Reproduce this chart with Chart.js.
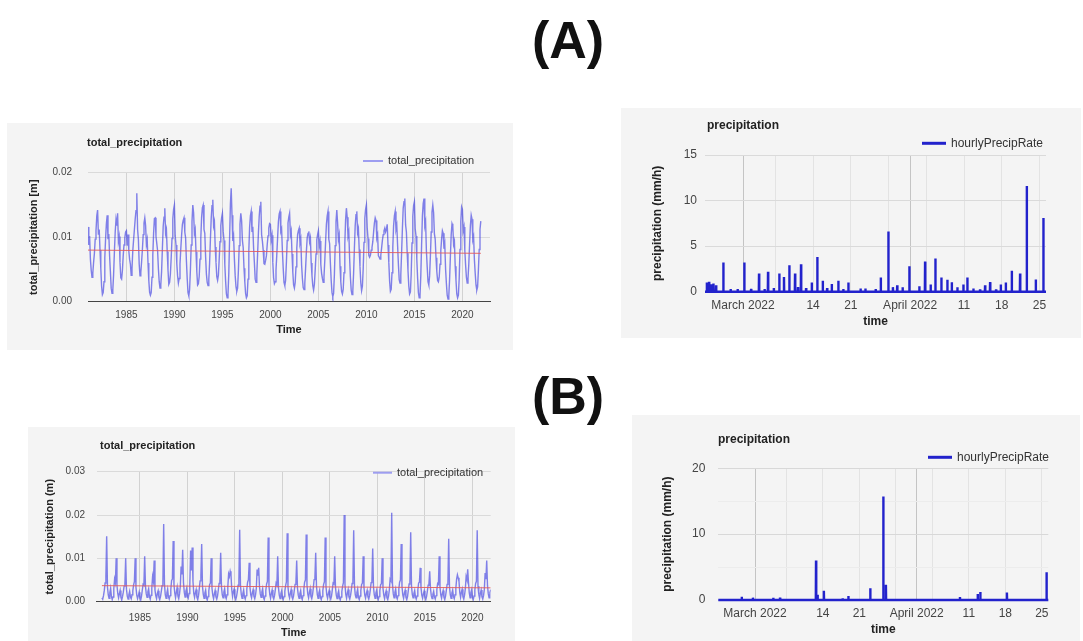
<!DOCTYPE html>
<html>
<head>
<meta charset="utf-8">
<script src="https://cdn.jsdelivr.net/npm/chart.js@4.4.1/dist/chart.umd.min.js"></script>
<style>
  html, body { margin: 0; padding: 0; background: #fff; }
  body { width: 1083px; height: 641px; position: relative; overflow: hidden; font-family: "Liberation Sans", Arial, sans-serif; }
  .panel { position: absolute; background: #f4f4f4; }
  .panel canvas { display: block; }
  .tag { position: absolute; left: 500px; width: 136px; text-align: center; font: bold 52px "Liberation Sans", Arial, sans-serif; line-height: 52px; color: #111; }
</style>
</head>
<body>
<div class="tag" style="top:14px">(A)</div>
<div class="tag" style="top:370px">(B)</div>

<div class="panel" style="left:7px;top:123px;width:506px;height:227px"><canvas id="chartA1" width="506" height="227"></canvas></div>
<div class="panel" style="left:621px;top:108px;width:460px;height:230px"><canvas id="chartA2" width="460" height="230"></canvas></div>
<div class="panel" style="left:28px;top:427px;width:487px;height:214px"><canvas id="chartB1" width="487" height="214"></canvas></div>
<div class="panel" style="left:632px;top:415px;width:448px;height:226px"><canvas id="chartB2" width="448" height="226"></canvas></div>

<script>
// ---- data ----
const yearTicks = [1985, 1990, 1995, 2000, 2005, 2010, 2015, 2020];

// monthly total precipitation [m], Jan..Dec per row
const firstYearA = 1981;
const monthlyPrecipA = [
  [0.0116,0.0088,0.0102,0.0066,0.0049,0.0038,0.0044,0.0061,0.0075,0.0097,0.0110,0.0133],
  [0.0142,0.0104,0.0112,0.0080,0.0052,0.0024,0.0011,0.0014,0.0031,0.0068,0.0098,0.0121],
  [0.0134,0.0097,0.0105,0.0071,0.0046,0.0021,0.0013,0.0018,0.0042,0.0077,0.0108,0.0127],
  [0.0118,0.0137,0.0094,0.0101,0.0061,0.0037,0.0035,0.0048,0.0071,0.0088,0.0099,0.0108],
  [0.0110,0.0087,0.0104,0.0079,0.0066,0.0058,0.0041,0.0052,0.0079,0.0096,0.0112,0.0128],
  [0.0141,0.0168,0.0112,0.0096,0.0058,0.0040,0.0045,0.0062,0.0081,0.0104,0.0122,0.0130],
  [0.0118,0.0089,0.0096,0.0060,0.0033,0.0015,0.0010,0.0014,0.0038,0.0072,0.0106,0.0129],
  [0.0130,0.0101,0.0090,0.0079,0.0051,0.0031,0.0021,0.0026,0.0047,0.0083,0.0117,0.0131],
  [0.0145,0.0106,0.0112,0.0078,0.0049,0.0027,0.0030,0.0043,0.0068,0.0098,0.0128,0.0143],
  [0.0150,0.0102,0.0088,0.0059,0.0040,0.0029,0.0036,0.0058,0.0082,0.0103,0.0120,0.0126],
  [0.0130,0.0108,0.0099,0.0064,0.0036,0.0014,0.0009,0.0019,0.0049,0.0088,0.0124,0.0150],
  [0.0138,0.0106,0.0112,0.0077,0.0047,0.0026,0.0028,0.0039,0.0066,0.0098,0.0131,0.0146],
  [0.0150,0.0112,0.0106,0.0070,0.0043,0.0030,0.0025,0.0034,0.0060,0.0096,0.0129,0.0149],
  [0.0158,0.0118,0.0124,0.0085,0.0061,0.0039,0.0033,0.0041,0.0066,0.0093,0.0118,0.0130],
  [0.0137,0.0109,0.0095,0.0058,0.0032,0.0012,0.0006,0.0012,0.0044,0.0098,0.0151,0.0176],
  [0.0134,0.0094,0.0101,0.0066,0.0040,0.0023,0.0016,0.0021,0.0048,0.0087,0.0120,0.0137],
  [0.0126,0.0095,0.0084,0.0052,0.0031,0.0013,0.0006,0.0009,0.0035,0.0078,0.0115,0.0133],
  [0.0140,0.0108,0.0116,0.0083,0.0060,0.0035,0.0030,0.0042,0.0074,0.0106,0.0132,0.0148],
  [0.0155,0.0104,0.0094,0.0080,0.0059,0.0058,0.0064,0.0071,0.0088,0.0102,0.0114,0.0121],
  [0.0120,0.0096,0.0103,0.0061,0.0037,0.0028,0.0031,0.0049,0.0073,0.0099,0.0124,0.0136],
  [0.0140,0.0109,0.0113,0.0079,0.0052,0.0030,0.0025,0.0033,0.0061,0.0095,0.0122,0.0131],
  [0.0137,0.0104,0.0110,0.0074,0.0046,0.0026,0.0021,0.0030,0.0054,0.0083,0.0104,0.0110],
  [0.0114,0.0091,0.0097,0.0057,0.0036,0.0022,0.0019,0.0028,0.0052,0.0078,0.0099,0.0106],
  [0.0109,0.0093,0.0099,0.0060,0.0040,0.0025,0.0018,0.0027,0.0049,0.0074,0.0096,0.0104],
  [0.0110,0.0087,0.0094,0.0058,0.0044,0.0036,0.0030,0.0039,0.0064,0.0093,0.0120,0.0133],
  [0.0140,0.0097,0.0090,0.0059,0.0033,0.0014,0.0008,0.0013,0.0042,0.0087,0.0124,0.0142],
  [0.0122,0.0097,0.0104,0.0055,0.0031,0.0016,0.0012,0.0019,0.0045,0.0089,0.0127,0.0145],
  [0.0131,0.0102,0.0108,0.0068,0.0038,0.0018,0.0011,0.0016,0.0044,0.0083,0.0118,0.0135],
  [0.0140,0.0107,0.0113,0.0081,0.0054,0.0029,0.0017,0.0024,0.0051,0.0092,0.0129,0.0143],
  [0.0150,0.0115,0.0098,0.0072,0.0069,0.0072,0.0080,0.0084,0.0093,0.0108,0.0122,0.0130],
  [0.0126,0.0099,0.0104,0.0071,0.0069,0.0066,0.0072,0.0083,0.0095,0.0104,0.0110,0.0114],
  [0.0108,0.0112,0.0120,0.0088,0.0061,0.0032,0.0016,0.0019,0.0045,0.0084,0.0118,0.0133],
  [0.0140,0.0112,0.0118,0.0087,0.0058,0.0034,0.0029,0.0041,0.0076,0.0113,0.0145,0.0155],
  [0.0160,0.0119,0.0108,0.0075,0.0048,0.0024,0.0012,0.0015,0.0043,0.0091,0.0132,0.0149],
  [0.0155,0.0113,0.0102,0.0066,0.0037,0.0014,0.0006,0.0010,0.0040,0.0088,0.0133,0.0152],
  [0.0160,0.0118,0.0124,0.0079,0.0054,0.0031,0.0026,0.0040,0.0071,0.0108,0.0139,0.0150],
  [0.0138,0.0105,0.0097,0.0068,0.0047,0.0033,0.0031,0.0038,0.0058,0.0079,0.0097,0.0110],
  [0.0106,0.0082,0.0089,0.0050,0.0028,0.0010,0.0004,0.0009,0.0035,0.0071,0.0104,0.0121],
  [0.0117,0.0089,0.0094,0.0055,0.0033,0.0012,0.0006,0.0010,0.0036,0.0081,0.0124,0.0147],
  [0.0143,0.0110,0.0116,0.0080,0.0057,0.0038,0.0029,0.0036,0.0058,0.0089,0.0118,0.0134],
  [0.0128,0.0096,0.0101,0.0065,0.0044,0.0026,0.0018,0.0023,0.0049,0.0081,0.0112,0.0125]
];
const trendA = [0.0080, 0.0075];
const precipTicksA = [0, 0.01, 0.02];

const firstYearB = 1981;
const monthlyPrecipB = [
  [0.0009,0.0006,0.0014,0.0026,0.0043,0.0057,0.0151,0.0034,0.0016,0.0008,0.0021,0.0031],
  [0.0012,0.0005,0.0011,0.0030,0.0052,0.0044,0.0100,0.0038,0.0019,0.0009,0.0018,0.0026],
  [0.0010,0.0004,0.0012,0.0022,0.0036,0.0041,0.0100,0.0029,0.0013,0.0006,0.0016,0.0024],
  [0.0011,0.0007,0.0016,0.0025,0.0039,0.0046,0.0100,0.0033,0.0015,0.0007,0.0014,0.0022],
  [0.0008,0.0004,0.0013,0.0027,0.0040,0.0038,0.0105,0.0036,0.0018,0.0010,0.0023,0.0030],
  [0.0012,0.0006,0.0015,0.0031,0.0058,0.0047,0.0095,0.0027,0.0014,0.0007,0.0019,0.0025],
  [0.0010,0.0005,0.0012,0.0024,0.0037,0.0045,0.0179,0.0041,0.0016,0.0008,0.0020,0.0029],
  [0.0011,0.0006,0.0014,0.0028,0.0049,0.0052,0.0140,0.0039,0.0020,0.0009,0.0022,0.0033],
  [0.0013,0.0007,0.0018,0.0035,0.0081,0.0063,0.0120,0.0044,0.0022,0.0011,0.0024,0.0031],
  [0.0012,0.0008,0.0019,0.0038,0.0118,0.0072,0.0125,0.0047,0.0019,0.0010,0.0021,0.0028],
  [0.0010,0.0005,0.0014,0.0030,0.0048,0.0061,0.0133,0.0036,0.0017,0.0008,0.0020,0.0027],
  [0.0009,0.0004,0.0012,0.0025,0.0039,0.0043,0.0100,0.0031,0.0015,0.0007,0.0018,0.0026],
  [0.0011,0.0006,0.0013,0.0027,0.0042,0.0048,0.0113,0.0034,0.0016,0.0009,0.0022,0.0030],
  [0.0012,0.0007,0.0016,0.0034,0.0064,0.0058,0.0070,0.0062,0.0028,0.0012,0.0023,0.0029],
  [0.0010,0.0005,0.0012,0.0023,0.0038,0.0049,0.0166,0.0037,0.0017,0.0008,0.0019,0.0027],
  [0.0011,0.0006,0.0014,0.0029,0.0045,0.0051,0.0090,0.0033,0.0016,0.0009,0.0021,0.0028],
  [0.0012,0.0007,0.0015,0.0031,0.0074,0.0060,0.0078,0.0035,0.0018,0.0010,0.0022,0.0030],
  [0.0010,0.0005,0.0013,0.0026,0.0041,0.0047,0.0148,0.0036,0.0017,0.0008,0.0019,0.0027],
  [0.0011,0.0006,0.0014,0.0028,0.0043,0.0039,0.0105,0.0032,0.0015,0.0007,0.0018,0.0025],
  [0.0009,0.0005,0.0012,0.0024,0.0037,0.0046,0.0158,0.0034,0.0016,0.0009,0.0020,0.0028],
  [0.0011,0.0006,0.0013,0.0027,0.0040,0.0044,0.0095,0.0031,0.0015,0.0008,0.0019,0.0026],
  [0.0010,0.0005,0.0014,0.0029,0.0045,0.0050,0.0155,0.0038,0.0018,0.0009,0.0021,0.0030],
  [0.0012,0.0007,0.0016,0.0032,0.0051,0.0055,0.0113,0.0036,0.0017,0.0008,0.0020,0.0027],
  [0.0010,0.0005,0.0012,0.0025,0.0040,0.0046,0.0148,0.0035,0.0016,0.0008,0.0019,0.0026],
  [0.0011,0.0006,0.0013,0.0028,0.0043,0.0041,0.0105,0.0033,0.0015,0.0007,0.0018,0.0025],
  [0.0009,0.0004,0.0011,0.0023,0.0036,0.0044,0.0200,0.0039,0.0017,0.0008,0.0020,0.0028],
  [0.0011,0.0006,0.0014,0.0027,0.0042,0.0049,0.0165,0.0036,0.0016,0.0009,0.0021,0.0029],
  [0.0010,0.0005,0.0013,0.0026,0.0040,0.0043,0.0105,0.0032,0.0015,0.0008,0.0019,0.0026],
  [0.0011,0.0006,0.0014,0.0028,0.0044,0.0047,0.0123,0.0034,0.0016,0.0008,0.0020,0.0027],
  [0.0010,0.0005,0.0012,0.0025,0.0039,0.0042,0.0100,0.0031,0.0015,0.0007,0.0018,0.0025],
  [0.0009,0.0005,0.0013,0.0027,0.0052,0.0048,0.0205,0.0040,0.0018,0.0009,0.0021,0.0029],
  [0.0011,0.0006,0.0014,0.0029,0.0045,0.0050,0.0133,0.0035,0.0016,0.0008,0.0020,0.0027],
  [0.0010,0.0005,0.0012,0.0026,0.0041,0.0046,0.0160,0.0036,0.0017,0.0009,0.0019,0.0026],
  [0.0011,0.0006,0.0013,0.0027,0.0043,0.0045,0.0078,0.0032,0.0015,0.0008,0.0018,0.0025],
  [0.0010,0.0005,0.0012,0.0024,0.0038,0.0041,0.0070,0.0030,0.0014,0.0007,0.0017,0.0024],
  [0.0011,0.0006,0.0014,0.0028,0.0042,0.0040,0.0105,0.0033,0.0016,0.0008,0.0019,0.0026],
  [0.0010,0.0005,0.0013,0.0026,0.0040,0.0045,0.0145,0.0034,0.0016,0.0008,0.0020,0.0027],
  [0.0012,0.0007,0.0016,0.0031,0.0052,0.0062,0.0055,0.0047,0.0021,0.0010,0.0022,0.0029],
  [0.0011,0.0006,0.0015,0.0030,0.0058,0.0051,0.0075,0.0044,0.0020,0.0009,0.0021,0.0028],
  [0.0010,0.0005,0.0013,0.0027,0.0042,0.0047,0.0165,0.0036,0.0017,0.0008,0.0020,0.0027],
  [0.0011,0.0006,0.0014,0.0029,0.0066,0.0052,0.0095,0.0037,0.0018,0.0009,0.0021,0.0028]
];
const trendB = [0.0037, 0.0032];
const precipTicksB = [0, 0.01, 0.02, 0.03];

// hourly rain events: day counted from 1 March 2022, peak rate in mm/h
const dayTicks = [0, 6, 13, 20, 27, 31, 34, 41, 48, 55];
const dayLabels = ['March 2022', '', '14', '21', '', 'April 2022', '', '11', '18', '25'];
const monthStartDays = [0, 31];

const rainDaysA = [-6.7,-6.3,-5.9,-5.5,-5.0,-3.65,-2.3,-1.0,0.24,1.5,2.97,4.0,4.64,5.7,6.73,7.6,8.59,9.65,10.2,10.76,11.7,12.75,13.78,14.79,15.6,16.46,17.68,18.6,19.54,21.8,22.7,24.6,25.55,26.96,27.8,28.6,29.6,30.85,32.7,33.77,34.8,35.68,36.79,37.9,38.72,39.76,40.87,41.61,42.73,43.97,44.9,45.83,46.94,47.81,48.74,49.85,51.39,52.63,54.3,55.71];
const rainRatesA = [1.0,1.1,0.8,0.9,0.7,3.2,0.3,0.3,3.2,0.3,2.0,0.3,2.2,0.4,2.0,1.6,2.9,2.0,0.5,3.0,0.4,1.0,3.8,1.2,0.4,0.85,1.2,0.3,1.0,0.35,0.35,0.3,1.55,6.6,0.5,0.7,0.5,2.8,0.6,3.3,0.8,3.65,1.55,1.3,1.05,0.5,0.8,1.55,0.35,0.25,0.7,1.05,0.25,0.8,1.0,2.3,2.0,11.6,1.35,8.1];
const rateTicksA = [0, 5, 10, 15];

const rainDaysB = [-2.55,-0.4,3.5,4.8,11.7,12.0,13.2,16.8,17.9,22.1,24.6,25.1,39.3,42.7,43.2,48.3,55.9];
const rainRatesB = [0.5,0.35,0.35,0.35,6.0,0.8,1.4,0.25,0.6,1.8,15.7,2.3,0.45,0.9,1.2,1.15,4.2];
const rateTicksB = [0, 5, 10, 15, 20];
const rateLabelsB = ['0', '', '10', '', '20'];

// ---- helpers ----
Chart.defaults.font.family = '"Liberation Sans", Arial, sans-serif';
Chart.defaults.color = '#444';

function monthlySeries(rows, firstYear) {
  let pts = [];
  rows.forEach((row, yi) => {
    row.forEach((v, m) => pts.push({x: firstYear + yi + m / 12, y: v}));
  });
  return pts;
}

function spikeSeries(days, rates, start, end) {
  // rate is zero between the rain hours
  let pts = [{x: start, y: 0}];
  days.forEach((d, i) => {
    pts.push({x: d - 0.04, y: 0}, {x: d, y: rates[i]}, {x: d + 0.04, y: 0});
  });
  pts.push({x: end, y: 0});
  return pts;
}

const panelText = {
  id: 'panelText',
  afterDraw(chart, args, o) {
    const ctx = chart.ctx;
    ctx.save();
    ctx.textBaseline = 'middle';
    ctx.fillStyle = '#222';
    ctx.font = 'bold ' + o.titleSize + 'px "Liberation Sans", Arial, sans-serif';
    ctx.fillText(o.title, o.titleX, o.titleY);
    ctx.strokeStyle = o.swatchColor;
    ctx.lineWidth = o.swatchWidth;
    ctx.beginPath();
    ctx.moveTo(o.legendX, o.legendY);
    ctx.lineTo(o.legendX + o.swatchLen, o.legendY);
    ctx.stroke();
    ctx.fillStyle = '#333';
    ctx.font = o.legendSize + 'px "Liberation Sans", Arial, sans-serif';
    ctx.fillText(o.legend, o.legendX + o.swatchLen + 5, o.legendY);
    ctx.restore();
  }
};

function makeChart(id, datasets, cfg) {
  new Chart(document.getElementById(id), {
    type: 'line',
    data: {datasets: datasets},
    plugins: [panelText],
    options: {
      responsive: false,
      animation: false,
      layout: {padding: {left: 0, right: cfg.padRight, top: cfg.padTop, bottom: 0}},
      plugins: {
        legend: {display: false},
        tooltip: {enabled: false},
        panelText: cfg.text
      },
      elements: {point: {radius: 0}, line: {tension: 0}},
      scales: {
        x: {
          type: 'linear',
          min: cfg.xMin, max: cfg.xMax,
          afterFit: s => { s.height = cfg.xHeight; },
          afterBuildTicks: s => { s.ticks = cfg.xTicks.map(v => ({value: v})); },
          ticks: {
            autoSkip: false, maxRotation: 0, padding: cfg.xTickPad,
            font: {size: cfg.tickSize}, color: '#444',
            callback: cfg.xLabel
          },
          grid: {drawTicks: false, color: cfg.xGridColor},
          border: {display: cfg.baseline, color: '#444'},
          title: {display: true, text: cfg.xTitle, color: '#222',
                  font: {size: cfg.axisTitleSize, weight: 'bold'},
                  padding: {top: 0, bottom: cfg.xTitlePad}}
        },
        y: {
          type: 'linear',
          min: cfg.yTicks[0], max: cfg.yTicks[cfg.yTicks.length - 1],
          afterFit: s => { s.width = cfg.yWidth; },
          afterBuildTicks: s => { s.ticks = cfg.yTicks.map(v => ({value: v})); },
          ticks: {
            autoSkip: false, padding: cfg.yTickPad,
            font: {size: cfg.tickSize}, color: '#444',
            callback: cfg.yLabel
          },
          grid: {drawTicks: false, color: cfg.yGridColor},
          border: {display: false},
          title: {display: true, text: cfg.yTitle, color: '#222',
                  font: {size: cfg.axisTitleSize, weight: 'bold'},
                  padding: {top: cfg.yTitlePad, bottom: 0}}
        }
      }
    }
  });
}

function precipDatasets(rows, firstYear, trend) {
  const series = monthlySeries(rows, firstYear);
  return [
    {label: 'trend', data: [{x: series[0].x, y: trend[0]}, {x: series[series.length - 1].x, y: trend[1]}],
     borderColor: 'rgba(228,90,90,0.9)', borderWidth: 1},
    {label: 'total_precipitation', data: series,
     borderColor: 'rgba(55,55,225,0.62)', borderWidth: 1.4}
  ];
}

function rateDatasets(days, rates, start, end) {
  return [{label: 'hourlyPrecipRate', data: spikeSeries(days, rates, start, end),
           borderColor: '#2222cc', borderWidth: 2.4, clip: false}];
}

const yearLabel = v => String(v);
const precipLabel = v => v.toFixed(2);
const dayLabel = v => dayLabels[dayTicks.indexOf(v)];
const dayGrid = c => monthStartDays.includes(c.tick.value) ? '#c4c4c4' : '#e3e3e3';

// ---- (A) left ----
makeChart('chartA1', precipDatasets(monthlyPrecipA, firstYearA, trendA), {
  padRight: 23, padTop: 49.7, xHeight: 48.3, yWidth: 81,
  xMin: 1981.0, xMax: 2022.875, xTicks: yearTicks, xLabel: yearLabel,
  yTicks: precipTicksA, yLabel: precipLabel,
  tickSize: 10, axisTitleSize: 11, xTickPad: 8, yTickPad: 16,
  xTitle: 'Time', xTitlePad: 13, yTitle: 'total_precipitation [m]', yTitlePad: 20,
  baseline: true,
  xGridColor: '#d2d2d2',
  yGridColor: c => c.tick.value === 0 ? '#444' : '#dadada',
  text: {title: 'total_precipitation', titleX: 80, titleY: 20, titleSize: 11,
         legend: 'total_precipitation', legendX: 356, legendY: 38, legendSize: 11,
         swatchLen: 20, swatchColor: '#9d9df0', swatchWidth: 2}
});

// ---- (A) right ----
makeChart('chartA2', rateDatasets(rainDaysA, rainRatesA, -7.05, 56.2), {
  padRight: 35, padTop: 47, xHeight: 46.3, yWidth: 84,
  xMin: -7.05, xMax: 56.2, xTicks: dayTicks, xLabel: dayLabel,
  yTicks: rateTicksA, yLabel: v => String(v),
  tickSize: 12, axisTitleSize: 12, xTickPad: 6.5, yTickPad: 8,
  xTitle: 'time', xTitlePad: 9.5, yTitle: 'precipitation (mm/h)', yTitlePad: 29,
  baseline: false,
  xGridColor: dayGrid,
  yGridColor: '#dadada',
  text: {title: 'precipitation', titleX: 86, titleY: 18, titleSize: 12,
         legend: 'hourlyPrecipRate', legendX: 301, legendY: 35.3, legendSize: 12,
         swatchLen: 24, swatchColor: '#2222cc', swatchWidth: 3}
});

// ---- (B) left ----
makeChart('chartB1', precipDatasets(monthlyPrecipB, firstYearB, trendB), {
  padRight: 24.3, padTop: 44.7, xHeight: 39.3, yWidth: 68.7,
  xMin: 1980.45, xMax: 2021.92, xTicks: yearTicks, xLabel: yearLabel,
  yTicks: precipTicksB, yLabel: precipLabel,
  tickSize: 10, axisTitleSize: 11, xTickPad: 11, yTickPad: 11.7,
  xTitle: 'Time', xTitlePad: 1.5, yTitle: 'total_precipitation (m)', yTitlePad: 15,
  baseline: true,
  xGridColor: '#d2d2d2',
  yGridColor: c => c.tick.value === 0 ? '#444' : '#dadada',
  text: {title: 'total_precipitation', titleX: 72, titleY: 18.7, titleSize: 11,
         legend: 'total_precipitation', legendX: 345, legendY: 45.7, legendSize: 11,
         swatchLen: 19, swatchColor: '#9d9df0', swatchWidth: 2}
});

// ---- (B) right ----
makeChart('chartB2', rateDatasets(rainDaysB, rainRatesB, -7.04, 56.24), {
  padRight: 31.7, padTop: 53.3, xHeight: 41, yWidth: 86.3,
  xMin: -7.04, xMax: 56.24, xTicks: dayTicks, xLabel: dayLabel,
  yTicks: rateTicksB, yLabel: v => rateLabelsB[rateTicksB.indexOf(v)],
  tickSize: 12, axisTitleSize: 12, xTickPad: 6.5, yTickPad: 13,
  xTitle: 'time', xTitlePad: 4.4, yTitle: 'precipitation (mm/h)', yTitlePad: 28,
  baseline: false,
  xGridColor: dayGrid,
  yGridColor: c => rateLabelsB[rateTicksB.indexOf(c.tick.value)] === '' ? '#ececec' : '#d8d8d8',
  text: {title: 'precipitation', titleX: 86, titleY: 25, titleSize: 12,
         legend: 'hourlyPrecipRate', legendX: 296, legendY: 42.3, legendSize: 12,
         swatchLen: 24, swatchColor: '#2222cc', swatchWidth: 3}
});
</script>
</body>
</html>
